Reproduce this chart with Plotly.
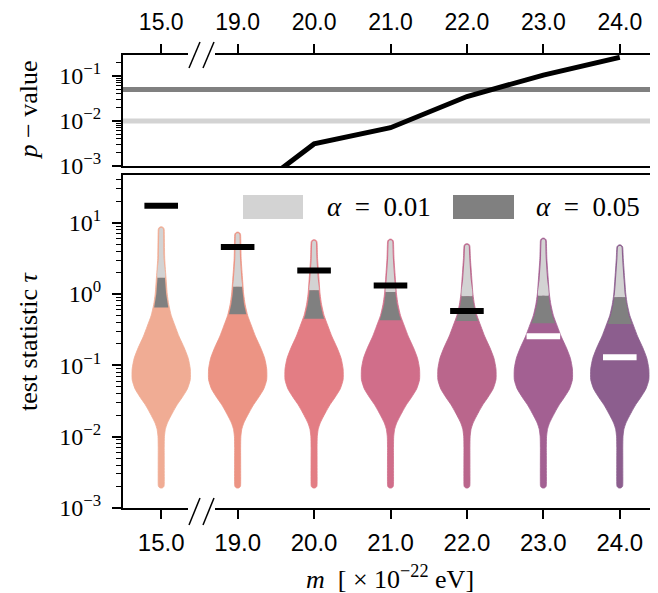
import numpy as np
import plotly.graph_objects as go

# ---------------- data ----------------
MASSES = ["15.0", "19.0", "20.0", "21.0", "22.0", "23.0", "24.0"]
P_VALUES = [1e-5, 1.6e-4, 0.0031, 0.0071, 0.035, 0.105, 0.26]
TAU_OBS = [17.3, 4.57, 2.14, 1.32, 0.58, 0.256, 0.13]
TAU_Q99 = [1.69, 1.27, 1.13, 1.07, 0.93, 0.95, 0.90]   # alpha = 0.01 critical value
TAU_Q95 = [0.65, 0.52, 0.45, 0.43, 0.42, 0.39, 0.38]   # alpha = 0.05 critical value
TAU_MAX = [8.8, 7.4, 5.8, 5.9, 5.1, 6.1, 4.9]
TAU_MIN = [0.0019, 0.0019, 0.0019, 0.0019, 0.0019, 0.0019, 0.0019]
ALPHAS = [0.01, 0.05]
ALPHA_LABELS = ["<i>α</i>&nbsp; =&nbsp; 0.01", "<i>α</i>&nbsp; =&nbsp; 0.05"]

# shared violin density profile: log10(tau) and relative density (1 = widest)
PROFILE_LOG_TAU = [-2.15, -2.0, -1.9, -1.82, -1.75, -1.65, -1.55, -1.45, -1.33, -1.2,
                   -1.05, -0.9, -0.75, -0.6, -0.45, -0.3, -0.15, 0.0, 0.2, 0.5]
PROFILE_DENSITY = [0.103, 0.11, 0.14, 0.20, 0.28, 0.41, 0.55, 0.72, 0.90, 1.0,
                   1.0, 0.93, 0.79, 0.62, 0.48, 0.345, 0.26, 0.207, 0.17, 0.12]
STEM_DENSITY = 0.103

VIOLIN_COLORS = ["#F0AC94", "#EC9484", "#E37D84", "#D06E8A", "#BA668C", "#A36092", "#8C5E8E"]
LIGHT = "#D3D3D3"
DARK = "#808080"

Y_TICKS_MAIN = [1e-3, 1e-2, 1e-1, 1e0, 1e1]
Y_TICKTEXT_MAIN = ["10<sup>−3</sup>", "10<sup>−2</sup>", "10<sup>−1</sup>", "10<sup>0</sup>", "10<sup>1</sup>"]
Y_TICKS_P = [1e-3, 1e-2, 1e-1]
Y_TICKTEXT_P = ["10<sup>−3</sup>", "10<sup>−2</sup>", "10<sup>−1</sup>"]

# ---------------- layout geometry ----------------
# the page body has an 8 px margin, so the figure starts at (8, 8) on screen
OFF = 8
W, H = 658 - OFF, 593 - OFF
L, R, T, B = 123 - OFF, 0, 55 - OFF, H - (508 - OFF)
PW, PH = W - L - R, H - T - B
SERIF = "Liberation Serif"
SANS = "Liberation Sans"

def xp(px):
    """screen x pixel -> paper"""
    return (px - OFF - L) / PW

def yp(py):
    """screen y pixel -> paper"""
    return (H - B - (py - OFF)) / PH

HALF_W = 0.38          # x-units of the widest part
PX_PER_DEC = 71.3      # bottom panel
PX_PER_X = PW / 7.0
TIP_R_PX = 3.0
INSET_PX = 1.1

def halfwidth(logs):
    d = np.interp(logs, PROFILE_LOG_TAU, PROFILE_DENSITY,
                  left=STEM_DENSITY, right=STEM_DENSITY)
    return d * HALF_W

def region(center, lo, hi, inset=0.0, round_bottom=True, round_top=True):
    inset_x = inset / PX_PER_X
    r_log = TIP_R_PX / PX_PER_DEC
    inner = [v for v in PROFILE_LOG_TAU if lo + r_log < v < hi - r_log]
    logs = [lo + (r_log if round_bottom else 0)] + inner + [hi - (r_log if round_top else 0)]
    logs = np.array(logs)
    hw = halfwidth(logs) - inset_x
    ys, xs = list(logs), list(hw)
    th = np.linspace(0, np.pi / 2, 6)
    if round_top:
        top_l = hi - r_log + (r_log - inset / PX_PER_DEC) * np.sin(th)
        top_w = hw[-1] * np.cos(th)
        ys = ys + list(top_l[1:])
        xs = xs + list(top_w[1:])
    else:
        ys = ys + [hi]
        xs = xs + [0.0]
    if round_bottom:
        bot_l = lo + r_log - (r_log - inset / PX_PER_DEC) * np.sin(th)
        bot_w = hw[0] * np.cos(th)
        ys = list(bot_l[::-1][:-1]) + ys
        xs = list(bot_w[::-1][:-1]) + xs
    else:
        ys = [lo] + ys
        xs = [0.0] + xs
    ys = np.array(ys)
    xs = np.array(xs)
    X = np.concatenate([center + xs, (center - xs)[::-1]])
    Y = np.concatenate([ys, ys[::-1]])
    return X, 10 ** Y

fig = go.Figure()

# ---------------- bottom panel: violins ----------------
for i, m in enumerate(MASSES):
    lo, hi = np.log10(TAU_MIN[i]), np.log10(TAU_MAX[i])
    X, Y = region(i, lo, hi)
    fig.add_trace(go.Scatter(x=X, y=Y, fill="toself", fillcolor=VIOLIN_COLORS[i],
                             mode="lines", line=dict(width=0.8, color=VIOLIN_COLORS[i], shape="spline", smoothing=0.6),
                             hoverinfo="skip", showlegend=False, xaxis="x", yaxis="y"))
    q99, q95 = np.log10(TAU_Q99[i]), np.log10(TAU_Q95[i])
    X, Y = region(i, q99, hi, inset=INSET_PX, round_bottom=False)
    fig.add_trace(go.Scatter(x=X, y=Y, fill="toself", fillcolor=LIGHT,
                             mode="lines", line=dict(width=0, color=LIGHT, shape="spline", smoothing=0.6),
                             hoverinfo="skip", showlegend=False, xaxis="x", yaxis="y"))
    X, Y = region(i, q95, q99, inset=INSET_PX, round_bottom=False, round_top=False)
    fig.add_trace(go.Scatter(x=X, y=Y, fill="toself", fillcolor=DARK,
                             mode="lines", line=dict(width=0, color=DARK),
                             hoverinfo="skip", showlegend=False, xaxis="x", yaxis="y"))

obs_colors = ["black" if p < ALPHAS[1] else "white" for p in P_VALUES]
fig.add_trace(go.Scatter(x=list(range(len(MASSES))), y=TAU_OBS, mode="markers",
                         marker=dict(symbol="line-ew", size=24,
                                     line=dict(width=6, color=obs_colors)),
                         hoverinfo="skip", showlegend=False, xaxis="x", yaxis="y"))

# ---------------- top panel: p-values ----------------
for a, c in zip(ALPHAS, [LIGHT, DARK]):
    fig.add_shape(type="line", xref="x2 domain", yref="y2", x0=0, x1=1, y0=a, y1=a,
                  line=dict(color=c, width=5), layer="below")
fig.add_trace(go.Scatter(x=list(range(len(MASSES))), y=P_VALUES, mode="lines",
                         line=dict(color="black", width=5),
                         hoverinfo="skip", showlegend=False, xaxis="x2", yaxis="y2"))

# ---------------- axes ----------------
minor_vals = [k * 10.0 ** e for e in range(-4, 2) for k in range(2, 10)]
common_x = dict(range=[-0.5, 6.5], tickvals=list(range(len(MASSES))), ticktext=MASSES,
                ticks="outside", ticklen=9, tickwidth=1.5, tickcolor="black",
                showline=True, linewidth=2, linecolor="black", mirror=True,
                showgrid=False, zeroline=False, automargin=False)
common_y = dict(type="log", ticks="outside", ticklen=9, tickwidth=1.5, tickcolor="black",
                showline=True, linewidth=2, linecolor="black", mirror=False,
                showgrid=False, zeroline=False, ticklabelstandoff=6, automargin=False,
                minor=dict(ticks="outside", ticklen=5, tickwidth=1.2, tickcolor="black",
                           tickvals=minor_vals, showgrid=False),
                tickfont=dict(family=SERIF, size=24, color="black"))

fig.update_layout(
    width=W, height=H, margin=dict(l=L, r=R, t=T, b=B, autoexpand=False),
    paper_bgcolor="white", plot_bgcolor="white",
    xaxis=dict(anchor="y", domain=[0, 1], side="bottom", ticklabelstandoff=3,
               tickfont=dict(family=SANS, size=24, color="black"), **common_x),
    xaxis2=dict(anchor="y2", domain=[0, 1], side="top", ticklabelstandoff=5,
                tickfont=dict(family=SANS, size=23, color="black"), **common_x),
    yaxis=dict(anchor="x", domain=[0, yp(175)], range=[-3, 1.67],
               tickvals=Y_TICKS_MAIN, ticktext=Y_TICKTEXT_MAIN, **common_y),
    yaxis2=dict(anchor="x2", domain=[yp(166), 1], range=[-3, -0.533],
                tickvals=Y_TICKS_P, ticktext=Y_TICKTEXT_P, **common_y),
)

# ---------------- axis titles ----------------
title_font = dict(family=SERIF, size=26, color="black")
fig.add_annotation(text="<i>p</i> − value", xref="paper", yref="paper",
                   x=xp(28), y=yp(110.5), xanchor="center", yanchor="middle",
                   textangle=-90, showarrow=False, font=title_font)
fig.add_annotation(text="test statistic <i>τ</i>", xref="paper", yref="paper",
                   x=xp(28), y=yp(341), xanchor="center", yanchor="middle",
                   textangle=-90, showarrow=False, font=title_font)
fig.add_annotation(text="<i>m</i>&nbsp;&nbsp;[ × 10<sup>−22</sup> eV]", xref="paper", yref="paper",
                   x=xp(390), y=yp(577), xanchor="center", yanchor="middle",
                   showarrow=False, font=title_font)

# ---------------- legend (drawn) ----------------
for (x0, x1), c, lab, tx in zip([(243, 303), (453, 514)], [LIGHT, DARK], ALPHA_LABELS, [325, 534]):
    fig.add_shape(type="rect", xref="paper", yref="paper", x0=xp(x0), x1=xp(x1),
                  y0=yp(219), y1=yp(195), fillcolor=c, line=dict(width=0), layer="above")
    fig.add_annotation(text=lab, xref="paper", yref="paper", x=xp(tx), y=yp(207),
                       xanchor="left", yanchor="middle", showarrow=False,
                       font=dict(family=SERIF, size=27, color="black"))

# ---------------- axis breaks ----------------
for ymid, slashes in [(55, [((189, 68), (200, 42)), ((203, 68), (214, 42))]),
                      (508, [((189, 525), (200, 498)), ((203, 525), (214, 498))])]:
    fig.add_shape(type="rect", xref="paper", yref="paper", x0=xp(188), x1=xp(215),
                  y0=yp(ymid + 3), y1=yp(ymid - 3), fillcolor="white",
                  line=dict(width=0), layer="above")
    for (xa, ya), (xb, yb) in slashes:
        fig.add_shape(type="line", xref="paper", yref="paper", x0=xp(xa), y0=yp(ya),
                      x1=xp(xb), y1=yp(yb), line=dict(color="black", width=1.5), layer="above")

fig.write_html("out.html")
